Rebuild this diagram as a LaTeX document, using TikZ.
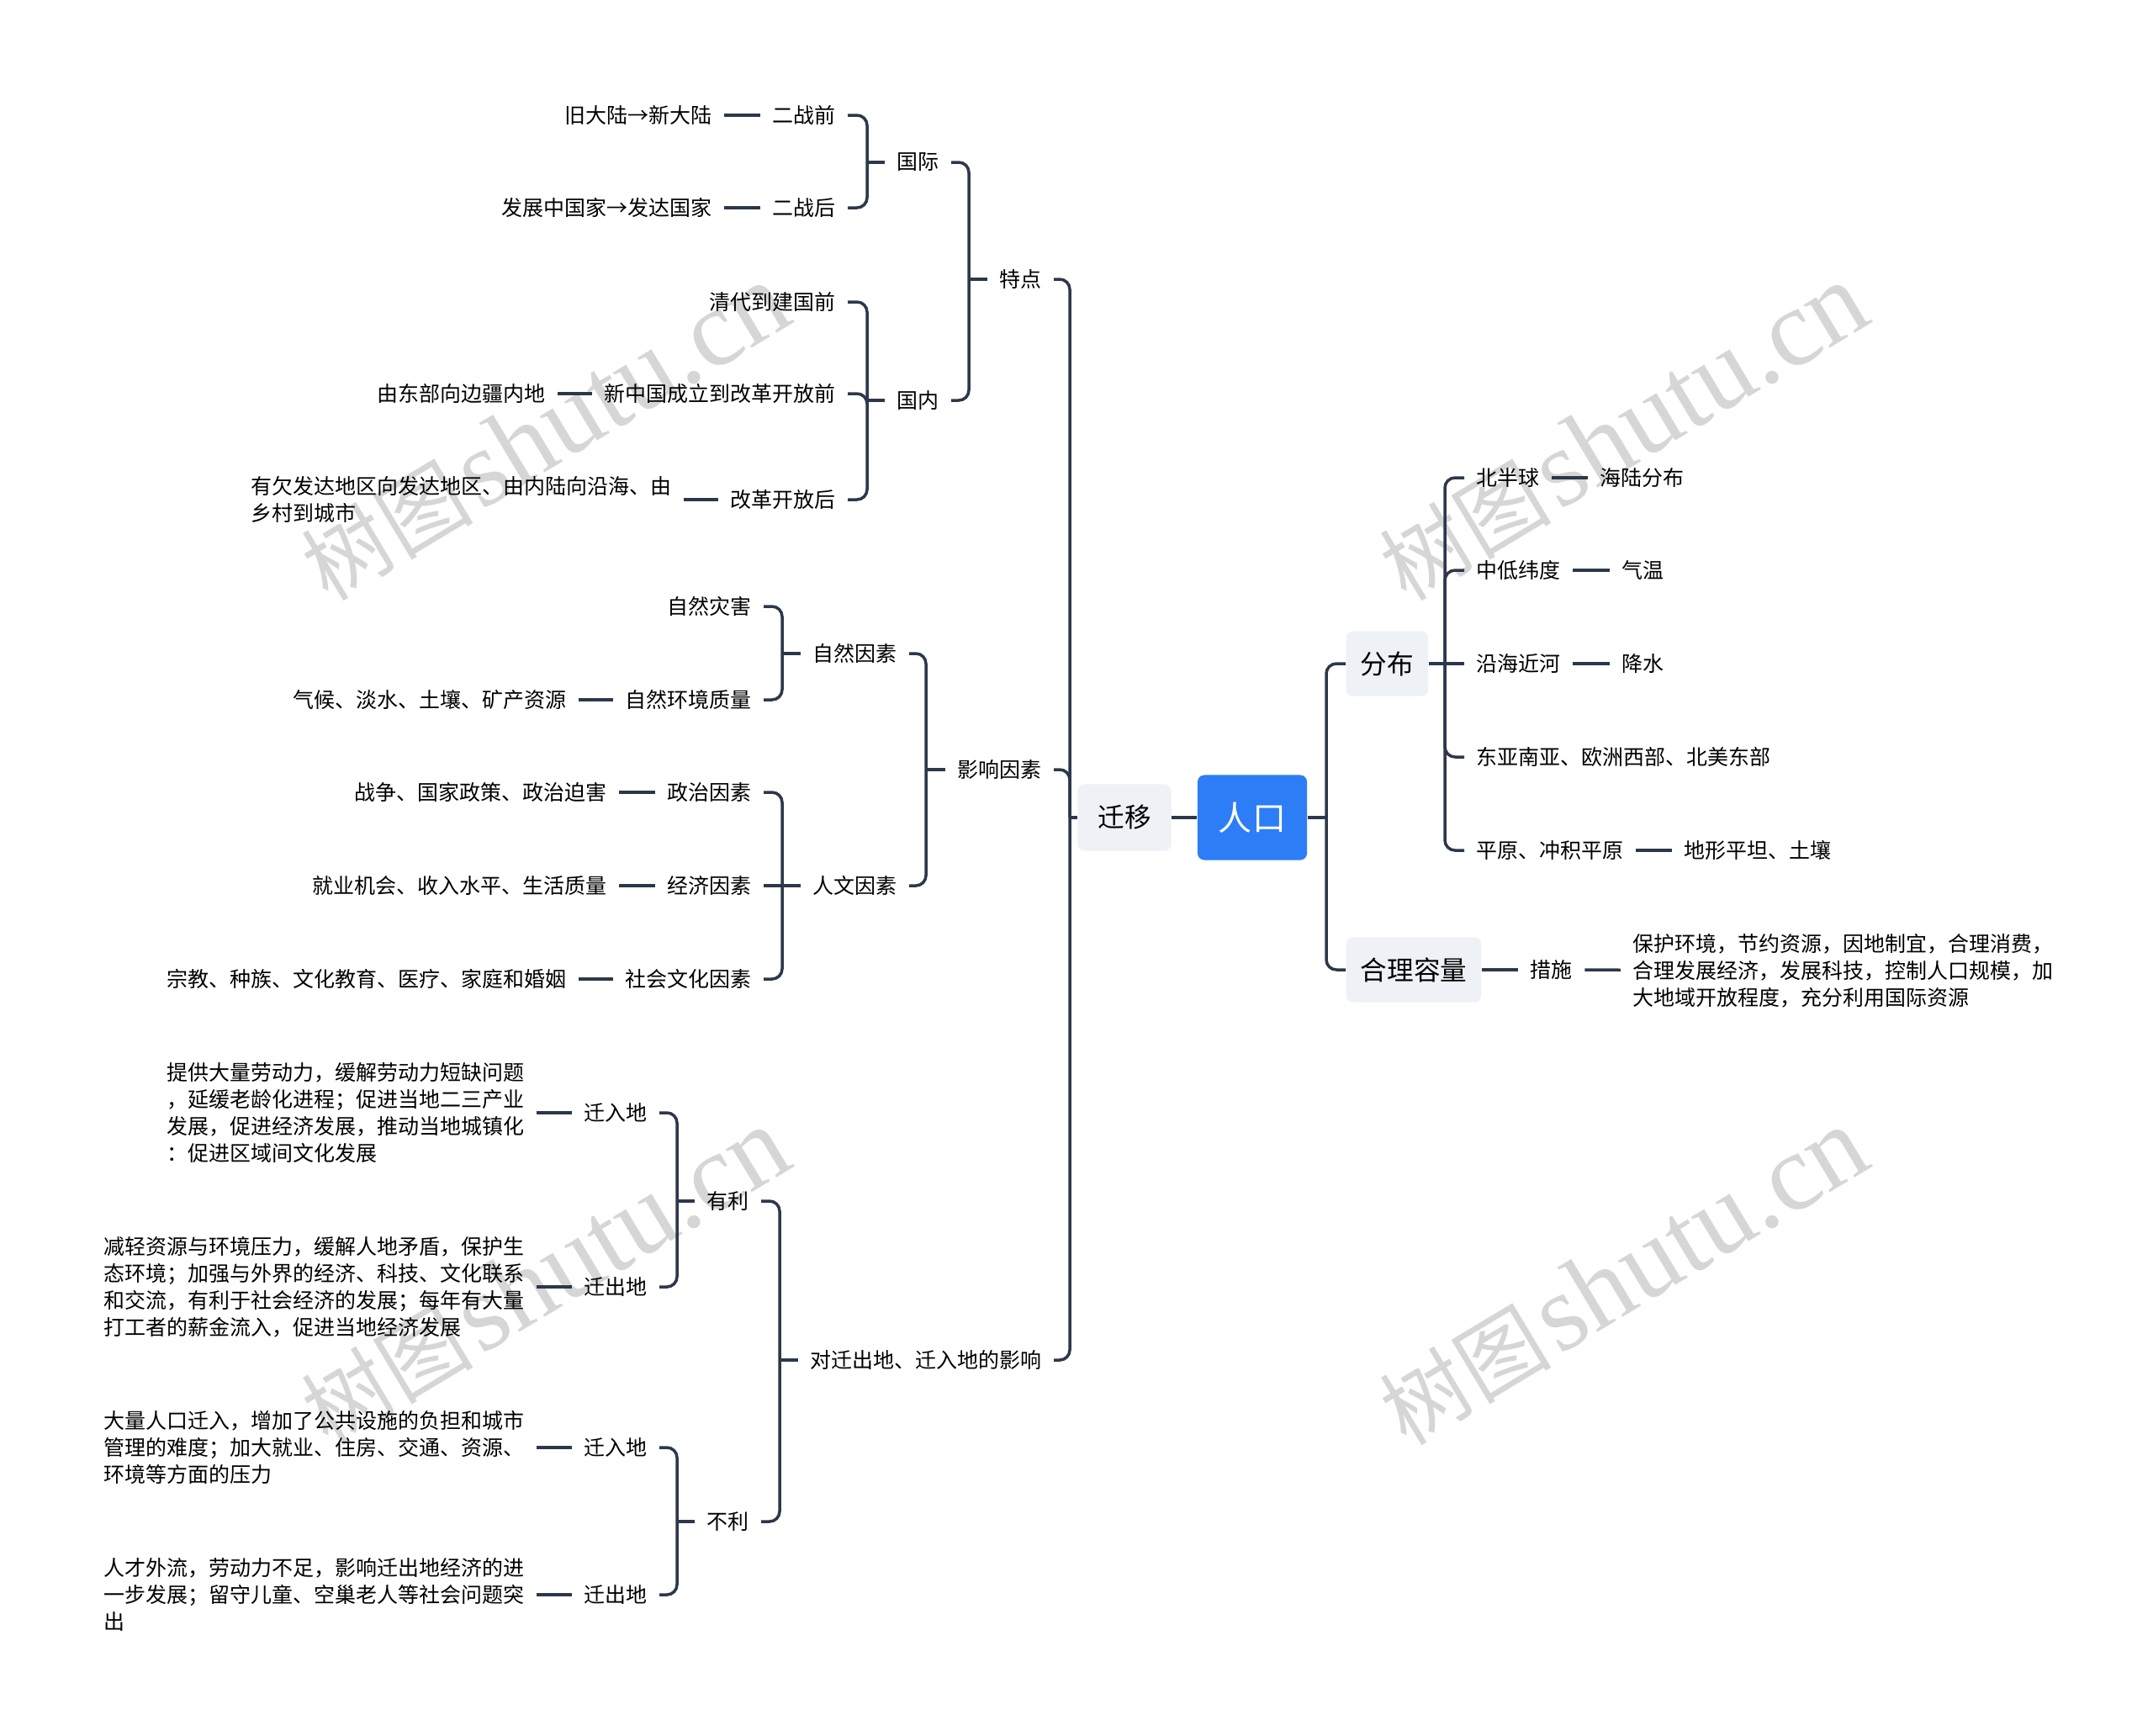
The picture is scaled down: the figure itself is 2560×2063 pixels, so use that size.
\documentclass[tikz,border=0pt]{standalone}
\usepackage{fontspec}
\setmainfont{Noto Sans CJK SC}
\newfontfamily\wmlatin{Liberation Serif}
\usepackage{tikz}
\definecolor{lineclr}{RGB}{44,56,74}
\definecolor{rootblue}{RGB}{45,125,246}
\definecolor{boxgray}{RGB}{238,241,245}
\definecolor{wmgray}{RGB}{214,214,214}
\newcommand{\tsz}{\fontsize{7.1}{9.1}\selectfont}
\newcommand{\wmtext}{{\fontsize{29}{29}\selectfont 树图} {\wmlatin\fontsize{37}{37}\selectfont shutu.cn}}

\begin{document}
\begin{tikzpicture}[x=0.01cm, y=-0.01cm, t/.style={font=\tsz, text=black, inner xsep=0.14cm, inner ysep=0.04cm}, p/.style={t, align=left},
	mid/.style={fill=boxgray, rounded corners=0.08cm, font=\fontsize{9}{11}\selectfont, text=black, inner xsep=0.17cm, minimum height=0.77cm},
	ln/.style={draw=lineclr, line width=0.035cm}, lnr/.style={ln, rounded corners=0.12cm}, wm/.style={text=wmgray, rotate=31, inner sep=0pt}]
	\useasboundingbox (0,0) rectangle (2560,2063);
	\node[wm] (wm1) at (648,514) {\wmtext}; \node[wm] (wm2) at (1930,514) {\wmtext};
	\node[wm] (wm3) at (648,1518) {\wmtext}; \node[wm] (wm4) at (1930,1518) {\wmtext};
	\node[fill=rootblue, rounded corners=0.08cm, text=white, font=\fontsize{11.4}{13}\selectfont, minimum width=1.3cm, minimum height=1.01cm] (rk) at (1489,972) {人口};
	\node[mid, minimum width=1.11cm, minimum height=0.79cm] (qy) at (1337,972) {迁移};
	\node[mid, anchor=west] (fb) at (1600,789) {分布}; \node[mid, anchor=west] (hl) at (1600,1153) {合理容量};
	\coordinate (jr) at (1577,972); \coordinate (jfb) at (1718,789); \coordinate (jl) at (1272,972);
	\coordinate (jtd) at (1152,332); \coordinate (jgj) at (1031,193); \coordinate (jgn) at (1031,476);
	\coordinate (jyx) at (1101,915); \coordinate (jzr) at (930,777); \coordinate (jrw) at (930,1053);
	\coordinate (jdq) at (927,1617); \coordinate (jyl) at (805,1428); \coordinate (jbl) at (805,1809);
	\node[t, anchor=west] (bbq) at (1741,568) {北半球}; \node[t, anchor=west] (hlf) at (1888,568) {海陆分布};
	\node[t, anchor=west] (zdw) at (1741,678) {中低纬度}; \node[t, anchor=west] (qw) at (1914,678) {气温};
	\node[t, anchor=west] (yhj) at (1741,789) {沿海近河}; \node[t, anchor=west] (js) at (1914,789) {降水};
	\node[t, anchor=west] (dny) at (1741,900) {东亚南亚、欧洲西部、北美东部};
	\node[t, anchor=west] (pyc) at (1741,1011) {平原、冲积平原}; \node[t, anchor=west] (dxp) at (1988,1011) {地形平坦、土壤};
	\node[t, anchor=west] (cs) at (1805,1153) {措施};
	\node[p, anchor=west] (pcs) at (1927,1154) {保护环境，节约资源，因地制宜，合理消费，\\合理发展经济，发展科技，控制人口规模，加\\大地域开放程度，充分利用国际资源};
	\node[t, anchor=east] (td) at (1253,332) {特点}; \node[t, anchor=east] (yx) at (1253,915) {影响因素};
	\node[t, anchor=east] (dq) at (1253,1617) {对迁出地、迁入地的影响};
	\node[t, anchor=east] (gj) at (1131,193) {国际}; \node[t, anchor=east] (gn) at (1131,476) {国内};
	\node[t, anchor=east] (ezq) at (1008,137) {二战前}; \node[t, anchor=east] (jdl) at (861,137) {旧大陆→新大陆};
	\node[t, anchor=east] (ezh) at (1008,247) {二战后}; \node[t, anchor=east] (fzg) at (861,247) {发展中国家→发达国家};
	\node[t, anchor=east] (qd) at (1008,359) {清代到建国前};
	\node[t, anchor=east] (xzg) at (1008,468) {新中国成立到改革开放前}; \node[t, anchor=east] (dbx) at (663,468) {由东部向边疆内地};
	\node[t, anchor=east] (ggh) at (1008,594) {改革开放后};
	\node[p, anchor=east] (yqf) at (813,594) {有欠发达地区向发达地区、由内陆向沿海、由\\乡村到城市};
	\node[t, anchor=east] (zry) at (1081,777) {自然因素}; \node[t, anchor=east] (rwy) at (1081,1053) {人文因素};
	\node[t, anchor=east] (zrz) at (908,721) {自然灾害};
	\node[t, anchor=east] (zrh) at (908,832) {自然环境质量}; \node[t, anchor=east] (qhd) at (688,832) {气候、淡水、土壤、矿产资源};
	\node[t, anchor=east] (zzy) at (908,942) {政治因素}; \node[t, anchor=east] (zzp) at (736,942) {战争、国家政策、政治迫害};
	\node[t, anchor=east] (jjy) at (908,1053) {经济因素}; \node[t, anchor=east] (jyj) at (736,1053) {就业机会、收入水平、生活质量};
	\node[t, anchor=east] (shy) at (908,1164) {社会文化因素}; \node[t, anchor=east] (zjz) at (688,1164) {宗教、种族、文化教育、医疗、家庭和婚姻};
	\node[t, anchor=east] (yl) at (905,1428) {有利}; \node[t, anchor=east] (bl) at (905,1809) {不利};
	\node[t, anchor=east] (yl1) at (784,1323) {迁入地}; \node[t, anchor=east] (yl2) at (784,1530) {迁出地};
	\node[t, anchor=east] (bl1) at (784,1721) {迁入地}; \node[t, anchor=east] (bl2) at (784,1896) {迁出地};
	\node[p, anchor=east] (pyl1) at (638,1323) {提供大量劳动力，缓解劳动力短缺问题\\，延缓老龄化进程；促进当地二三产业\\发展，促进经济发展，推动当地城镇化\\：促进区域间文化发展};
	\node[p, anchor=east] (pyl2) at (638,1530) {减轻资源与环境压力，缓解人地矛盾，保护生\\态环境；加强与外界的经济、科技、文化联系\\和交流，有利于社会经济的发展；每年有大量\\打工者的薪金流入，促进当地经济发展};
	\node[p, anchor=east] (pbl1) at (638,1721) {大量人口迁入，增加了公共设施的负担和城市\\管理的难度；加大就业、住房、交通、资源、\\环境等方面的压力};
	\node[p, anchor=east] (pbl2) at (638,1896) {人才外流，劳动力不足，影响迁出地经济的进\\一步发展；留守儿童、空巢老人等社会问题突\\出};
	\draw[ln] (rk) -- (qy); \draw[ln] (rk) -- (jr); \draw[lnr] (jr) |- (fb); \draw[lnr] (jr) |- (hl);
	\draw[ln] (fb) -- (jfb); \draw[lnr] (jfb) |- (bbq); \draw[lnr] (jfb) |- (zdw); \draw[ln] (jfb) -- (yhj); \draw[lnr] (jfb) |- (dny); \draw[lnr] (jfb) |- (pyc);
	\draw[ln] (bbq) -- (hlf); \draw[ln] (zdw) -- (qw); \draw[ln] (yhj) -- (js); \draw[ln] (pyc) -- (dxp);
	\draw[ln] (hl) -- (cs); \draw[ln] (cs) -- (pcs);
	\draw[ln] (qy) -- (jl); \draw[lnr] (jl) |- (td); \draw[lnr] (jl) |- (yx); \draw[lnr] (jl) |- (dq);
	\draw[ln] (td) -- (jtd); \draw[lnr] (jtd) |- (gj); \draw[lnr] (jtd) |- (gn);
	\draw[ln] (gj) -- (jgj); \draw[lnr] (jgj) |- (ezq); \draw[lnr] (jgj) |- (ezh); \draw[ln] (ezq) -- (jdl); \draw[ln] (ezh) -- (fzg);
	\draw[ln] (gn) -- (jgn); \draw[lnr] (jgn) |- (qd); \draw[lnr] (jgn) |- (xzg); \draw[lnr] (jgn) |- (ggh); \draw[ln] (xzg) -- (dbx); \draw[ln] (ggh) -- (yqf);
	\draw[ln] (yx) -- (jyx); \draw[lnr] (jyx) |- (zry); \draw[lnr] (jyx) |- (rwy);
	\draw[ln] (zry) -- (jzr); \draw[lnr] (jzr) |- (zrz); \draw[lnr] (jzr) |- (zrh); \draw[ln] (zrh) -- (qhd);
	\draw[ln] (rwy) -- (jrw); \draw[lnr] (jrw) |- (zzy); \draw[ln] (jrw) -- (jjy); \draw[lnr] (jrw) |- (shy);
	\draw[ln] (zzy) -- (zzp); \draw[ln] (jjy) -- (jyj); \draw[ln] (shy) -- (zjz);
	\draw[ln] (dq) -- (jdq); \draw[lnr] (jdq) |- (yl); \draw[lnr] (jdq) |- (bl);
	\draw[ln] (yl) -- (jyl); \draw[lnr] (jyl) |- (yl1); \draw[lnr] (jyl) |- (yl2); \draw[ln] (yl1) -- (pyl1); \draw[ln] (yl2) -- (pyl2);
	\draw[ln] (bl) -- (jbl); \draw[lnr] (jbl) |- (bl1); \draw[lnr] (jbl) |- (bl2); \draw[ln] (bl1) -- (pbl1); \draw[ln] (bl2) -- (pbl2);
\end{tikzpicture}
\end{document}
